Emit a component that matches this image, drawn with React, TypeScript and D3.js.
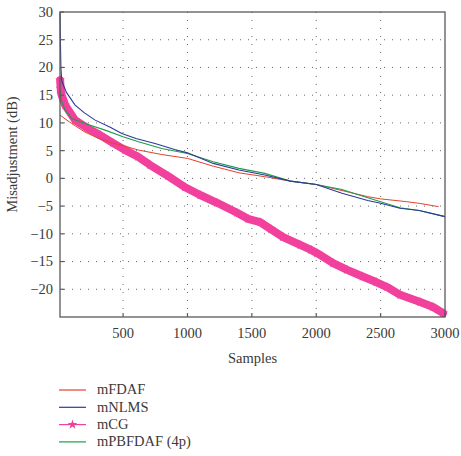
import * as d3 from 'd3';

// Misadjustment curves, [samples, dB]
const mFDAF: [number, number][] = [
  [10, 11.4], [100, 9.9], [200, 8.4], [300, 7.3], [400, 6.5], [500, 5.9], [620, 5.1],
  [800, 4.3], [1000, 3.6], [1200, 2.2], [1400, 1.0], [1600, 0.3], [1800, -0.5],
  [2000, -1.1], [2200, -2.2], [2400, -3.3], [2500, -3.7], [2700, -4.2], [2800, -4.5],
  [2950, -5.1],
];

const mNLMS: [number, number][] = [
  [10, 30], [13, 25], [17, 20], [24, 17.5], [60, 15.5], [127, 13.2], [200, 11.8],
  [283, 10.5], [400, 9.2], [490, 8.1], [600, 7.2], [748, 6.3], [900, 5.2], [1000, 4.6],
  [1200, 2.7], [1400, 1.5], [1600, 0.6], [1800, -0.5], [2000, -1.1], [2200, -2.7],
  [2400, -4.0], [2500, -4.5], [2650, -5.4], [2800, -5.8], [3000, -6.9],
];

const mCG: [number, number][] = [
  [11, 17.7], [15, 16.2], [19, 15.3], [50, 13.2], [127, 10.5], [220, 9.1], [321, 7.8],
  [420, 6.4], [516, 5.1], [616, 3.9], [710, 2.4], [850, 0.4], [981, -1.6], [1098, -3.0],
  [1230, -4.4], [1385, -6.2], [1470, -7.3], [1564, -7.9], [1650, -9.2], [1743, -10.6],
  [1875, -12.0], [1960, -12.9], [2007, -13.5], [2131, -15.3], [2240, -16.5],
  [2360, -17.7], [2465, -18.7], [2550, -19.6], [2651, -21.0], [2807, -22.3],
  [2907, -23.2], [2985, -24.3],
];

const mPBFDAF: [number, number][] = [
  [10, 16], [20, 14], [50, 12.3], [100, 10.8], [205, 9.9], [360, 8.7], [500, 7.5],
  [620, 6.6], [800, 5.4], [1000, 4.5], [1200, 3.0], [1400, 1.8], [1600, 0.9],
  [1800, -0.5], [2000, -1.1], [2200, -2.0], [2400, -3.5], [2500, -4.2], [2650, -5.3],
  [2800, -5.8], [3000, -6.9],
];

const xTicks = [500, 1000, 1500, 2000, 2500, 3000];
const yTicks = [30, 25, 20, 15, 10, 5, 0, -5, -10, -15, -20];
const legendLabels = ['mFDAF', 'mNLMS', 'mCG', 'mPBFDAF (4p)'];

const W = 461;
const H = 456;
const left = 60;
const right = 445;
const top = 12;
const bottom = 317;
const font = '"Liberation Serif", "Times New Roman", serif';
const textColor = '#3a3a3a';
const axisColor = '#5a5a5a';

const colors = {
  fdaf: '#e5412d',
  nlms: '#2b3a98',
  cg: '#f2409d',
  pbfdaf: '#1f9b4c',
};

export default function App() {
  const x = d3.scaleLinear().domain([10, 3000]).range([left, right]);
  const y = d3.scaleLinear().domain([-25, 30]).range([bottom, top]);
  const line = d3
    .line<[number, number]>()
    .x((d) => x(d[0]))
    .y((d) => y(d[1]));
  const fmt = d3.format('d');
  const star = d3.symbol().type(d3.symbolStar).size(30)() || '';

  const series = [
    { label: legendLabels[0], data: mFDAF, color: colors.fdaf },
    { label: legendLabels[1], data: mNLMS, color: colors.nlms },
    { label: legendLabels[2], data: mCG, color: colors.cg },
    { label: legendLabels[3], data: mPBFDAF, color: colors.pbfdaf },
  ];

  return (
    <svg
      width={W}
      height={H}
      style={{ position: 'absolute', left: 0, top: 0, background: '#fff' }}
      fontFamily={font}
    >
      {/* dotted grid */}
      <g stroke="#6a6a6a" strokeWidth={1} strokeDasharray="1,7">
        {yTicks
          .filter((t) => t !== 30)
          .map((t) => (
            <line key={'gy' + t} x1={left + 4} x2={right} y1={y(t)} y2={y(t)} />
          ))}
        {xTicks
          .filter((t) => t !== 3000)
          .map((t) => (
            <line key={'gx' + t} x1={x(t)} x2={x(t)} y1={top} y2={bottom - 4} />
          ))}
      </g>

      {/* curves */}
      <path d={line(mCG) || ''} fill="none" stroke={colors.cg} strokeWidth={8} strokeLinejoin="round" strokeLinecap="round" />
      {mCG.map((d, i) => (
        <path key={'s' + i} d={star} transform={`translate(${x(d[0])},${y(d[1])})`} fill={colors.cg} />
      ))}
      <path d={line(mFDAF) || ''} fill="none" stroke={colors.fdaf} strokeWidth={1} />
      <path d={line(mPBFDAF) || ''} fill="none" stroke={colors.pbfdaf} strokeWidth={1.1} />
      <path d={line(mNLMS) || ''} fill="none" stroke={colors.nlms} strokeWidth={1.1} />

      {/* frame */}
      <rect x={left} y={top} width={right - left} height={bottom - top} fill="none" stroke={axisColor} strokeWidth={1.3} />

      {/* ticks and labels */}
      <g stroke={axisColor} strokeWidth={1.2}>
        {xTicks.map((t) => (
          <line key={'tx' + t} x1={x(t)} x2={x(t)} y1={bottom} y2={bottom - 4} />
        ))}
        {yTicks.map((t) => (
          <line key={'ty' + t} x1={left} x2={left + 4} y1={y(t)} y2={y(t)} />
        ))}
      </g>
      <g fontSize={14.5} fill={textColor}>
        {xTicks.map((t) => (
          <text key={'lx' + t} x={x(t)} y={bottom + 21} textAnchor="middle">
            {fmt(t)}
          </text>
        ))}
        {yTicks.map((t) => (
          <text key={'ly' + t} x={left - 7} y={y(t)} dy="0.34em" textAnchor="end">
            {fmt(t)}
          </text>
        ))}
        <text x={(left + right) / 2} y={bottom + 46} textAnchor="middle">
          Samples
        </text>
        <text transform={`translate(17,${(top + bottom) / 2 - 10}) rotate(-90)`} textAnchor="middle">
          Misadjustment (dB)
        </text>
      </g>

      {/* legend */}
      <g fontSize={14.5} fill={textColor}>
        {series.map((s, i) => {
          const ly = 390 + i * 17.3;
          return (
            <g key={s.label}>
              <line x1={59} x2={86} y1={ly} y2={ly} stroke={s.color} strokeWidth={1.2} />
              {s.data === mCG && (
                <path d={star} transform={`translate(72.5,${ly})`} fill={s.color} />
              )}
              <text x={97} y={ly} dy="0.3em">
                {s.label}
              </text>
            </g>
          );
        })}
      </g>
    </svg>
  );
}
